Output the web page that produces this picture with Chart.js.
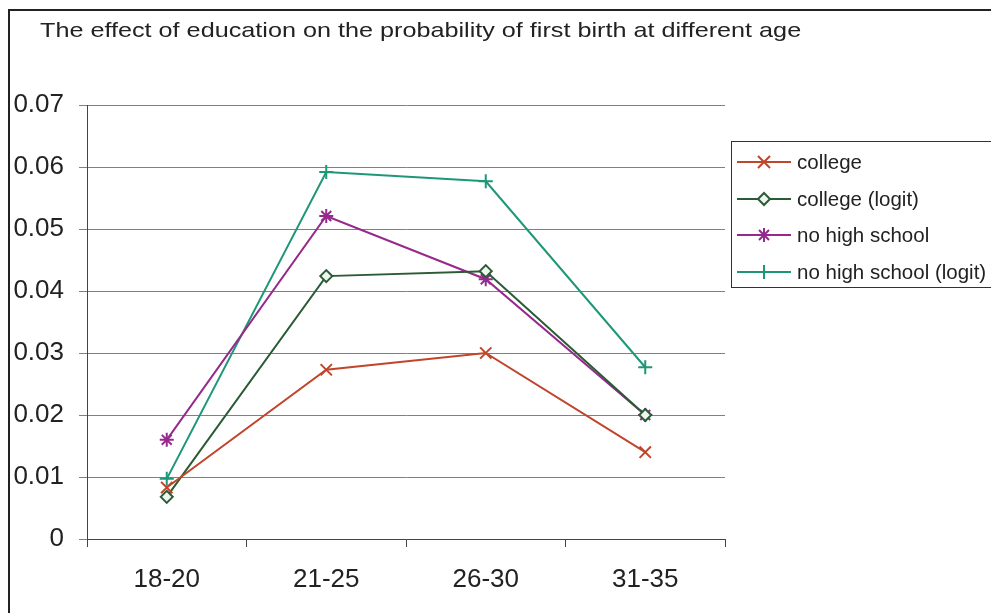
<!DOCTYPE html>
<html>
<head>
<meta charset="utf-8">
<script src="https://cdn.jsdelivr.net/npm/chart.js@4"></script>
<style>
  html, body { margin: 0; padding: 0; background: #fff; }
  #wrap { position: relative; width: 991px; height: 613px; overflow: hidden; background: #fff; font-family: "Liberation Sans", Arial, sans-serif; color: #222; }
  #frame { position: absolute; left: 8px; top: 9px; width: 1100px; height: 800px; border-left: 2px solid #222; border-top: 2px solid #222; }
  #title { position: absolute; left: 40px; top: 19px; font-size: 21px; line-height: 21px; white-space: nowrap; color: #222; transform: scaleX(1.2); transform-origin: 0 0; }
  #chart { position: absolute; left: 0; top: 0; }
  #legend { position: absolute; left: 731px; top: 141px; width: 400px; height: 145px; border: 1px solid #333; background: #fff; }
  .row { position: absolute; left: 0; height: 36px; display: flex; align-items: center; white-space: nowrap; font-size: 20.5px; color: #222; }
  .row svg { margin-left: 5px; margin-right: 6px; }
</style>
</head>
<body>
<div id="wrap">
  <canvas id="chart" width="991" height="613"></canvas>
  <div id="frame"></div>
  <div id="title">The effect of education on the probability of first birth at different age</div>
  <div id="legend"></div>
</div>
<script>
const categories = ["18-20", "21-25", "26-30", "31-35"];
const seriesNames = ["college", "college (logit)", "no high school", "no high school (logit)"];
const college = [0.0083, 0.0273, 0.0300, 0.0140];
const collegeLogit = [0.0068, 0.0424, 0.0432, 0.0200];
const noHighSchool = [0.0160, 0.0521, 0.0419, 0.0200];
const noHighSchoolLogit = [0.0097, 0.0592, 0.0577, 0.0277];
const yTicks = [0, 0.01, 0.02, 0.03, 0.04, 0.05, 0.06, 0.07];

const colors = ["#c0452b", "#2a5b34", "#962a8c", "#1e9678"];
const styles = [
  { pointStyle: "crossRot", radius: 8, fill: "#c0452b" },
  { pointStyle: "rectRot", radius: 6, fill: "#eef6f0" },
  { pointStyle: "star", radius: 7, fill: "#962a8c" },
  { pointStyle: "cross", radius: 7, fill: "#1e9678" }
];
const values = [college, collegeLogit, noHighSchool, noHighSchoolLogit];

const datasets = values.map((v, i) => ({
  label: seriesNames[i],
  data: v,
  borderColor: colors[i],
  backgroundColor: styles[i].fill,
  borderWidth: 2,
  pointStyle: styles[i].pointStyle,
  pointRadius: styles[i].radius,
  pointHoverRadius: styles[i].radius,
  pointBorderColor: colors[i],
  pointBackgroundColor: styles[i].fill,
  pointBorderWidth: 2,
  tension: 0,
  fill: false
}));

const font = { family: "'Liberation Sans', Arial, sans-serif", size: 26 };

new Chart(document.getElementById("chart"), {
  type: "line",
  data: { labels: categories, datasets: datasets },
  options: {
    responsive: false,
    devicePixelRatio: 1,
    animation: false,
    layout: { padding: { left: 0, top: 105, right: 266, bottom: 0 } },
    plugins: { legend: { display: false }, title: { display: false }, tooltip: { enabled: false } },
    scales: {
      x: {
        type: "category",
        offset: true,
        grid: { offset: true, drawOnChartArea: false, drawTicks: true, tickLength: 8, color: "#444", lineWidth: 1 },
        border: { display: true, color: "#444", width: 1 },
        ticks: { color: "#222", font: font, padding: 17, maxRotation: 0 },
        afterFit: (s) => { s.height = 74; }
      },
      y: {
        min: 0,
        max: 0.07,
        afterBuildTicks: (s) => { s.ticks = yTicks.map(v => ({ value: v })); },
        grid: { color: "#808080", lineWidth: 1, drawTicks: true, tickLength: 8 },
        border: { display: true, color: "#444", width: 1 },
        ticks: { color: "#222", font: font, padding: 15, callback: (v) => String(Math.round(v * 100) / 100) },
        afterFit: (s) => { s.width = 87; }
      }
    }
  }
});

// HTML legend built from the dataset styles
const legend = document.getElementById("legend");
const centers = [20, 57, 93, 130];
function markerSvg(i) {
  const c = colors[i], f = styles[i].fill, cx = 27, cy = 9;
  let m = "";
  if (styles[i].pointStyle === "crossRot") {
    m = `<path d="M${cx-6} ${cy-6}L${cx+6} ${cy+6}M${cx+6} ${cy-6}L${cx-6} ${cy+6}" stroke="${c}" stroke-width="2"/>`;
  } else if (styles[i].pointStyle === "rectRot") {
    m = `<path d="M${cx} ${cy-6}L${cx+6} ${cy}L${cx} ${cy+6}L${cx-6} ${cy}Z" stroke="${c}" stroke-width="2" fill="${f}"/>`;
  } else if (styles[i].pointStyle === "star") {
    m = `<path d="M${cx} ${cy-7}L${cx} ${cy+7}M${cx-5} ${cy-5}L${cx+5} ${cy+5}M${cx+5} ${cy-5}L${cx-5} ${cy+5}M${cx-7} ${cy}L${cx+7} ${cy}" stroke="${c}" stroke-width="2"/>`;
  } else {
    m = `<path d="M${cx} ${cy-7}L${cx} ${cy+7}" stroke="${c}" stroke-width="2"/>`;
  }
  return `<svg width="54" height="18" viewBox="0 0 54 18"><line x1="0" y1="${cy}" x2="54" y2="${cy}" stroke="${c}" stroke-width="2"/>${m}</svg>`;
}
seriesNames.forEach((name, i) => {
  const row = document.createElement("div");
  row.className = "row";
  row.style.top = (centers[i] - 18) + "px";
  row.innerHTML = markerSvg(i) + `<span>${name}</span>`;
  legend.appendChild(row);
});
</script>
</body>
</html>
